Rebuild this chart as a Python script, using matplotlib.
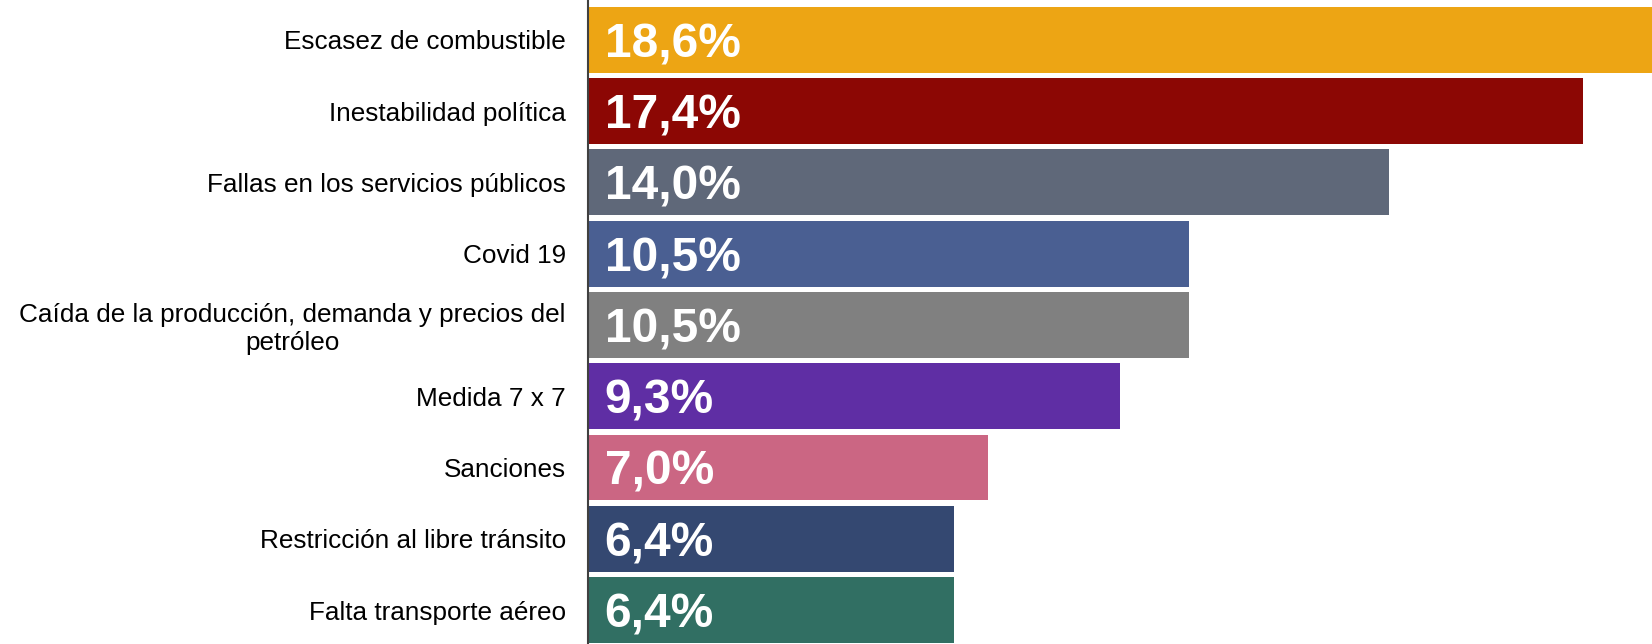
import numpy as np
from matplotlib import pyplot as plt

plt.rcParams['font.family'] = ['Liberation Sans', 'DejaVu Sans']

categories = ['Escasez de combustible', 'Inestabilidad política', 'Fallas en los servicios públicos',
              'Covid 19', 'Caída de la producción, demanda y precios del\npetróleo', 'Medida 7 x 7',
              'Sanciones', 'Restricción al libre tránsito', 'Falta transporte aéreo']
values = [18.6, 17.4, 14.0, 10.5, 10.5, 9.3, 7.0, 6.4, 6.4]
value_labels = ['18,6%', '17,4%', '14,0%', '10,5%', '10,5%', '9,3%', '7,0%', '6,4%', '6,4%']
colors = ['#EDA514', '#8C0704', '#5F6879', '#4A5F92', '#808080', '#5F2EA4', '#CB6683', '#344871', '#316F63']

fig = plt.figure(figsize=(16.52, 6.44), dpi=100)
ax = fig.add_axes([588 / 1652, 0, 1 - 588 / 1652, 1])

y = np.arange(len(categories))
bars = ax.barh(y, values, height=0.926, color=colors)
ax.set_ylim(8.477, -0.561)
ax.set_xlim(0, 18.6)

# value labels inside bars, left side
for bar, lab in zip(bars, value_labels):
    ax.annotate(lab, (0, bar.get_y() + bar.get_height() / 2), xytext=(12, -3.5), textcoords='offset points',
                ha='left', va='center', color='white', fontsize=34.5, fontweight='bold')

ax.set_yticks(y)
ax.set_yticklabels(categories, fontsize=18.8, multialignment='center', linespacing=1.2)
ax.tick_params(axis='y', length=0, pad=16)
ax.set_xticks([])
for s in ['top', 'right', 'bottom']:
    ax.spines[s].set_visible(False)
ax.spines['left'].set_color('#404040')
ax.spines['left'].set_linewidth(1.5)

plt.savefig('out.png', dpi=100)
